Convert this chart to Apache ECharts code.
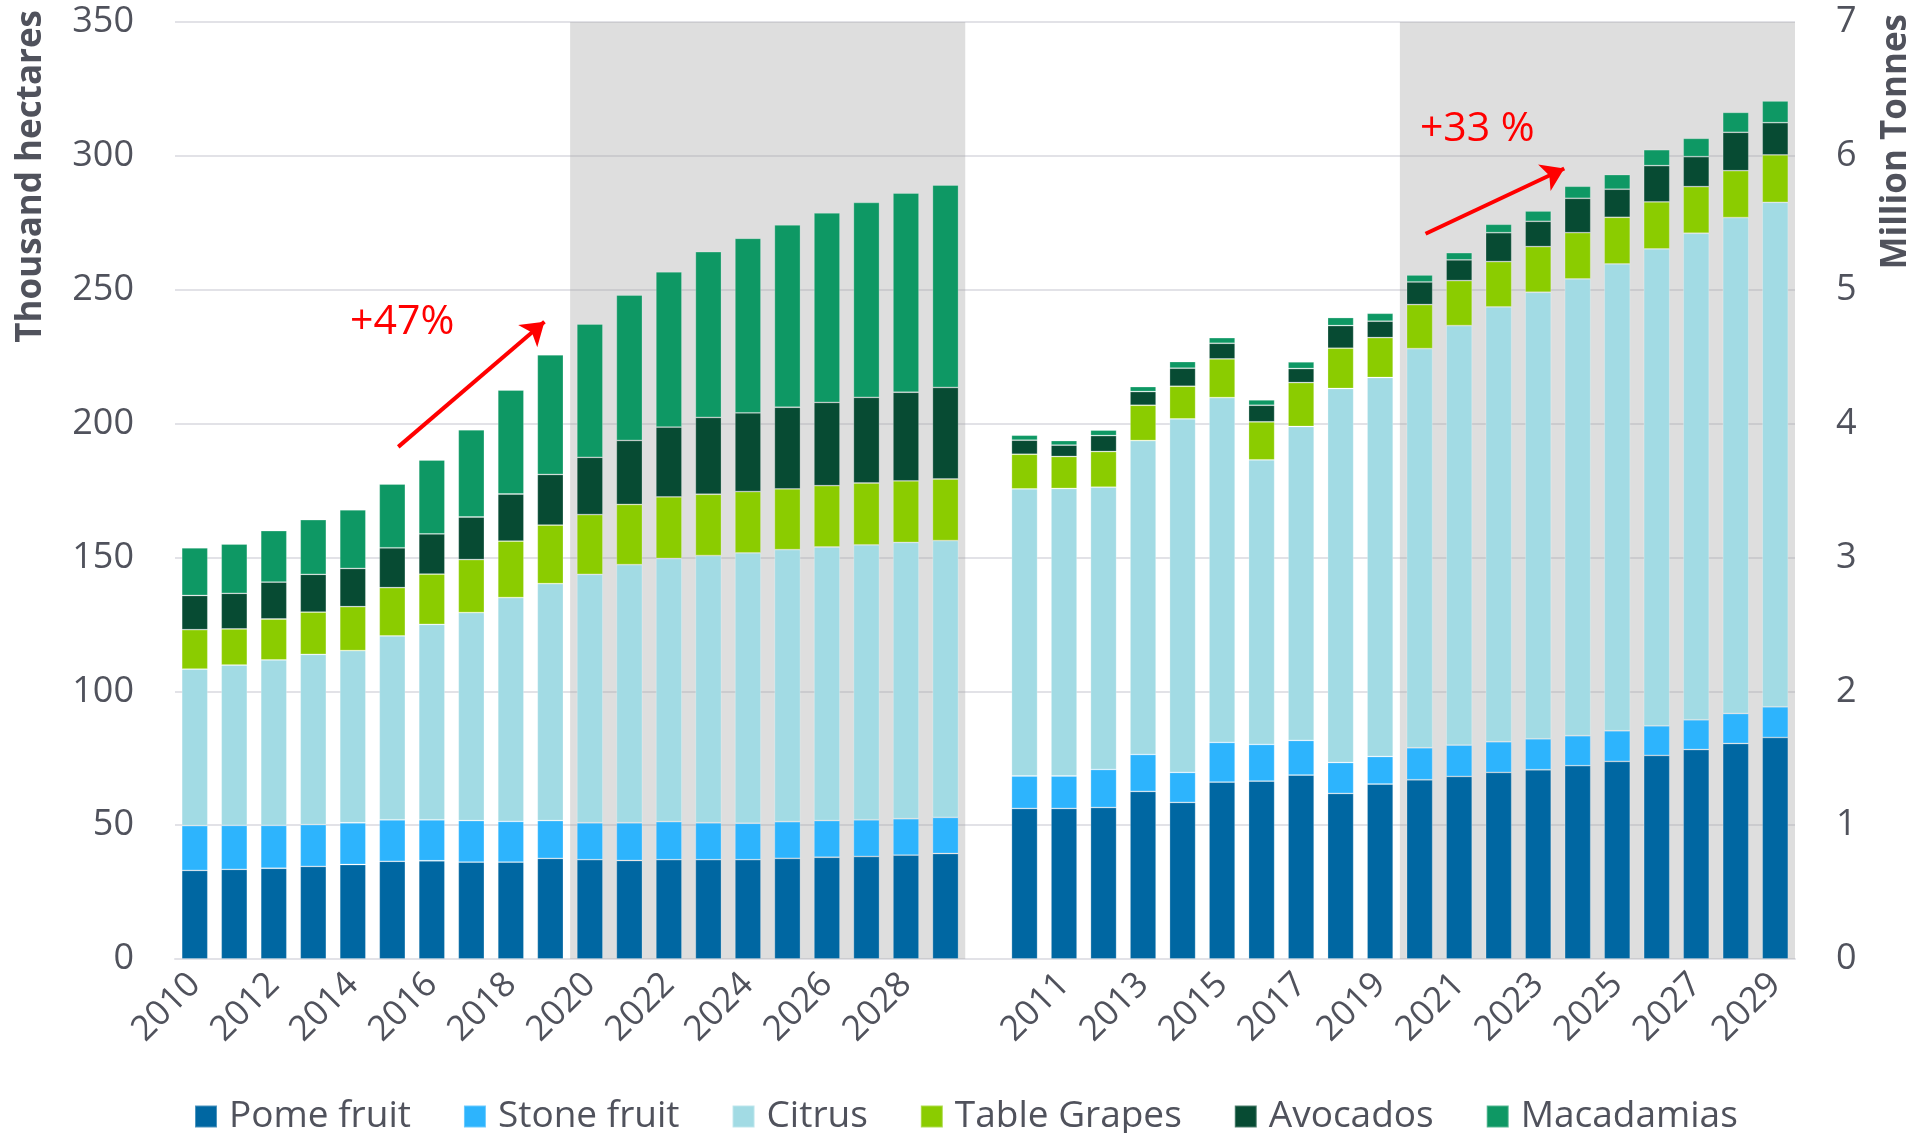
<!DOCTYPE html>
<html>
<head>
<meta charset="utf-8">
<script src="https://cdn.jsdelivr.net/npm/echarts@6/dist/echarts.min.js"></script>
<style>
  html, body { margin: 0; padding: 0; background: #fff; }
  #chart { width: 1916px; height: 1133px; }
</style>
</head>
<body>
<div id="chart"></div>
<script>
const years = ['2010', '2011', '2012', '2013', '2014', '2015', '2016', '2017', '2018', '2019',
  '2020', '2021', '2022', '2023', '2024', '2025', '2026', '2027', '2028', '2029']

// thousand hectares (left block)
const areaPome = [33.1, 33.5, 33.9, 34.6, 35.3, 36.5, 36.7, 36.2, 36.2, 37.6, 37.1, 36.8, 37.1, 37.1, 37.1, 37.6, 38.0, 38.3, 38.8, 39.4]
const areaStone = [16.7, 16.4, 16.0, 15.6, 15.6, 15.5, 15.3, 15.5, 15.2, 14.1, 13.8, 14.1, 14.2, 13.8, 13.6, 13.7, 13.7, 13.7, 13.6, 13.5]
const areaCitrus = [58.5, 59.9, 61.8, 63.6, 64.3, 68.7, 73.0, 77.7, 83.6, 88.5, 92.8, 96.4, 98.3, 99.8, 101.0, 101.6, 102.2, 102.7, 103.2, 103.4]
const areaGrapes = [14.7, 13.5, 15.3, 15.8, 16.4, 18.0, 18.8, 19.8, 21.1, 21.9, 22.3, 22.5, 23.0, 22.9, 22.9, 22.7, 22.9, 23.1, 23.0, 23.0]
const areaAvocados = [12.8, 13.3, 13.8, 14.1, 14.3, 14.9, 15.0, 15.9, 17.6, 18.9, 21.4, 23.9, 26.1, 28.7, 29.4, 30.5, 31.1, 32.0, 33.1, 34.2]
const areaMacadamias = [17.8, 18.4, 19.2, 20.4, 21.9, 23.8, 27.6, 32.6, 38.8, 44.7, 49.8, 54.3, 58.0, 61.9, 65.2, 68.1, 70.8, 72.8, 74.4, 75.6]

// million tonnes (right block)
const prodPome = [1.125, 1.125, 1.132, 1.252, 1.170, 1.322, 1.329, 1.374, 1.237, 1.307, 1.339, 1.364, 1.394, 1.414, 1.444, 1.476, 1.521, 1.565, 1.610, 1.655]
const prodStone = [0.242, 0.242, 0.284, 0.276, 0.224, 0.296, 0.274, 0.259, 0.231, 0.206, 0.239, 0.234, 0.229, 0.231, 0.224, 0.229, 0.221, 0.222, 0.224, 0.229]
const prodCitrus = [2.145, 2.148, 2.109, 2.345, 2.641, 2.576, 2.126, 2.345, 2.794, 2.831, 2.982, 3.134, 3.249, 3.336, 3.413, 3.488, 3.563, 3.635, 3.705, 3.769]
const prodGrapes = [0.259, 0.239, 0.266, 0.264, 0.244, 0.289, 0.284, 0.328, 0.301, 0.298, 0.329, 0.336, 0.338, 0.341, 0.345, 0.348, 0.351, 0.348, 0.350, 0.354]
const prodAvocados = [0.105, 0.085, 0.119, 0.102, 0.135, 0.117, 0.124, 0.105, 0.169, 0.123, 0.169, 0.155, 0.216, 0.189, 0.257, 0.210, 0.271, 0.224, 0.287, 0.241]
const prodMacadamias = [0.037, 0.034, 0.041, 0.037, 0.049, 0.042, 0.040, 0.050, 0.060, 0.059, 0.052, 0.054, 0.063, 0.077, 0.090, 0.109, 0.119, 0.137, 0.149, 0.162]

const names = ['Pome fruit', 'Stone fruit', 'Citrus', 'Table Grapes', 'Avocados', 'Macadamias']
const colors = ['#0067a2', '#2db4fd', '#a2dbe4', '#8bcc00', '#074b33', '#0e9864']
const areaData = [areaPome, areaStone, areaCitrus, areaGrapes, areaAvocados, areaMacadamias]
const prodData = [prodPome, prodStone, prodCitrus, prodGrapes, prodAvocados, prodMacadamias]

const categories = years.concat([''], years)
const gap = years.length + 1

const textColor = '#50525c'
const font = 'Open Sans'

const chartDom = document.getElementById('chart')
const myChart = echarts.init(chartDom)

const series = []
names.forEach((name, i) => {
  const empty = new Array(gap).fill(null)
  series.push({
    name: name,
    type: 'bar',
    stack: 'all',
    yAxisIndex: 0,
    barCategoryGap: '34%',
    itemStyle: { color: colors[i], borderColor: 'rgba(255,255,255,0.3)', borderWidth: 0.8 },
    data: areaData[i].concat(empty)
  })
})
names.forEach((name, i) => {
  series.push({
    name: name,
    type: 'bar',
    stack: 'all',
    yAxisIndex: 1,
    itemStyle: { color: colors[i], borderColor: 'rgba(255,255,255,0.3)', borderWidth: 0.8 },
    data: new Array(gap).fill(null).concat(prodData[i])
  })
})

// shaded projection periods + arrows + labels, on a hidden index axis
const redLabel = { show: true, color: '#ff0000', fontSize: 41, fontFamily: font }
series.push({
  type: 'line',
  xAxisIndex: 1,
  yAxisIndex: 0,
  data: [],
  silent: true,
  markArea: {
    silent: true,
    itemStyle: { color: 'rgba(160,160,160,0.35)' },
    data: [
      [{ xAxis: 9.5, yAxis: 0 }, { xAxis: 19.5, yAxis: 350 }],
      [{ xAxis: 30.5, yAxis: 0 }, { xAxis: 40.5, yAxis: 350 }]
    ]
  },
  markLine: {
    silent: true,
    symbol: ['none', 'arrow'],
    symbolSize: 22,
    label: { show: false },
    lineStyle: { color: '#ff0000', width: 4, type: 'solid' },
    data: [
      [{ coord: [5.15, 191.3] }, { coord: [8.85, 238.0] }],
      [{ coord: [31.15, 270.9] }, { coord: [34.66, 295.3] }]
    ]
  },
  markPoint: {
    silent: true,
    symbol: 'circle',
    symbolSize: 0,
    data: [
      { coord: [5.25, 237.7], label: Object.assign({ position: 'inside', formatter: '+47%' }, redLabel) },
      { coord: [32.46, 309.8], label: Object.assign({ position: 'inside', formatter: '+33 %' }, redLabel) }
    ]
  }
})

const option = {
  animation: false,
  textStyle: { fontFamily: font },
  grid: { left: 175, right: 121, top: 22, bottom: 174 },
  legend: {
    data: names,
    top: 1093,
    left: 189,
    icon: 'rect',
    itemWidth: 22,
    itemHeight: 22,
    itemGap: 52,
    textStyle: { fontSize: 37, color: textColor, fontFamily: font, padding: [0, 0, 0, 7] }
  },
  xAxis: [
    {
      type: 'category',
      data: categories,
      axisTick: { show: false },
      axisLine: { lineStyle: { color: '#e2e2e7', width: 2 } },
      axisLabel: {
        interval: 1,
        rotate: 45,
        margin: 20,
        fontSize: 35,
        color: textColor,
        fontFamily: font
      }
    },
    { type: 'value', min: -0.5, max: 40.5, show: false }
  ],
  yAxis: [
    {
      type: 'value',
      min: 0,
      max: 350,
      interval: 50,
      axisLine: { show: false },
      axisTick: { show: false },
      axisLabel: { fontSize: 36, color: textColor, margin: 41, fontFamily: font },
      splitLine: { lineStyle: { color: '#e2e2e7', width: 2 } }
    },
    {
      type: 'value',
      min: 0,
      max: 7,
      interval: 1,
      position: 'right',
      axisLine: { show: false },
      axisTick: { show: false },
      splitLine: { show: false },
      axisLabel: { fontSize: 36, color: textColor, margin: 41, fontFamily: font }
    }
  ],
  graphic: [
    {
      type: 'text',
      x: 31,
      y: 10,
      rotation: Math.PI / 2,
      style: {
        text: 'Thousand hectares',
        fill: textColor,
        font: 'bold 35px "Open Sans"',
        textAlign: 'right',
        textVerticalAlign: 'middle'
      }
    },
    {
      type: 'text',
      x: 1896,
      y: 14,
      rotation: Math.PI / 2,
      style: {
        text: 'Million Tonnes',
        fill: textColor,
        font: 'bold 35px "Open Sans"',
        textAlign: 'right',
        textVerticalAlign: 'middle'
      }
    }
  ],
  series: series
}

myChart.setOption(option)
</script>
</body>
</html>
